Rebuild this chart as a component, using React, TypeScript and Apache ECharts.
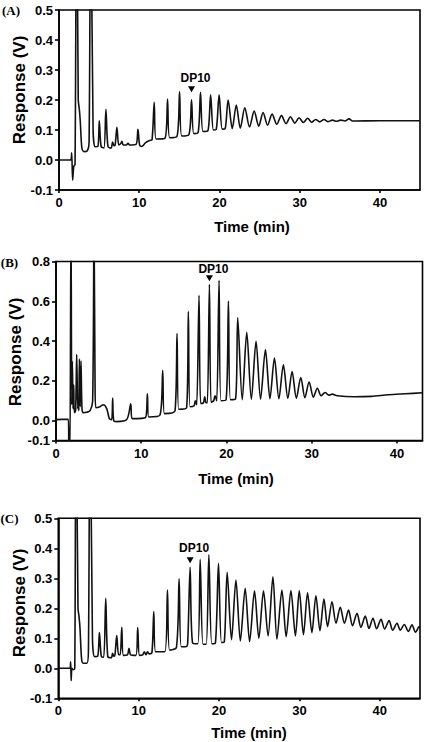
import React, { useEffect, useRef } from 'react';
import * as echarts from 'echarts';

// ---------- text ----------
const panelLabels = ['(A)', '(B)', '(C)'];
const xAxisName = 'Time (min)';
const yAxisName = 'Response (V)';
const dpLabel = 'DP10';

// ---------- axes ----------
const xMaxList = [45, 43, 45];
const xTickStep = 10;
const yTicksA = [-0.1, 0, 0.1, 0.2, 0.3, 0.4, 0.5];
const yTicksB = [-0.1, 0, 0.2, 0.4, 0.6, 0.8];
const yTicksC = [-0.1, 0, 0.1, 0.2, 0.3, 0.4, 0.5];

// ---------- DP10 peaks [time, response] ----------
const dp10A: [number, number] = [16.52, 0.201];
const dp10B: [number, number] = [18.0, 0.685];
const dp10C: [number, number] = [16.4, 0.337];

// ---------- traces [time (min), response (V)] ----------
const traceA: [number, number][] = [
  [0, 0.0], [1.45, 0.0], [1.58, 0.024], [1.7, -0.067], [1.85, -0.02], [2.0, -0.015],
  [2.2, 0.95], [2.4, 0.2], [2.53, 0.17], [2.65, 0.13], [2.85, 0.04], [3.1, 0.028],
  [3.5, 0.03], [3.75, 0.06], [3.95, 0.95], [4.25, 0.1], [4.5, 0.044], [4.85, 0.045],
  [5.02, 0.131], [5.25, 0.045], [5.6, 0.04], [5.85, 0.169], [6.1, 0.045], [6.5, 0.04],
  [6.68, 0.06], [6.85, 0.048], [7.0, 0.05], [7.22, 0.109], [7.45, 0.05], [7.7, 0.055],
  [7.85, 0.062], [8.0, 0.05], [8.4, 0.05], [8.6, 0.056], [8.8, 0.05], [9.6, 0.052],
  [9.84, 0.102], [10.05, 0.05], [10.3, 0.045], [10.8, 0.058], [11.3, 0.065], [11.6, 0.068],
  [11.87, 0.192], [12.1, 0.07], [13.2, 0.072], [13.53, 0.203], [13.8, 0.074], [14.7, 0.078],
  [15.03, 0.228], [15.3, 0.08], [16.2, 0.085], [16.52, 0.201], [16.8, 0.088], [17.35, 0.092],
  [17.64, 0.226], [17.95, 0.095], [18.55, 0.097], [18.9, 0.217], [19.25, 0.1], [19.6, 0.102],
  [19.96, 0.217], [20.35, 0.103], [20.7, 0.104], [21.08, 0.2], [21.6, 0.105], [22.1, 0.183],
  [22.6, 0.106], [23.16, 0.174], [23.75, 0.11], [24.33, 0.163], [24.9, 0.113], [25.44, 0.158],
  [26.0, 0.116], [26.56, 0.153], [27.15, 0.119], [27.73, 0.148], [28.3, 0.121], [28.85, 0.144],
  [29.4, 0.123], [29.93, 0.141], [30.45, 0.125], [31.0, 0.139], [31.5, 0.126], [32.0, 0.135],
  [32.5, 0.127], [33.04, 0.135], [33.55, 0.128], [34.08, 0.133], [34.6, 0.129], [35.1, 0.133],
  [35.65, 0.13], [36.15, 0.137], [36.6, 0.13], [40.0, 0.131], [45.0, 0.131],
];

const traceB: [number, number][] = [
  [0, 0.005], [1.45, 0.007], [1.52, -0.2], [1.62, -0.2], [1.76, 1.0], [1.85, 0.08],
  [1.92, 0.298], [2.0, 0.06], [2.08, 0.18], [2.15, 0.04], [2.3, 0.05], [2.43, 0.332],
  [2.55, 0.06], [2.62, 0.1], [2.68, 0.05], [2.74, 0.31], [2.84, 0.07], [2.93, 0.3],
  [3.05, 0.06], [3.2, 0.04], [3.6, 0.042], [4.0, 0.05], [4.3, 0.1], [4.46, 1.0],
  [4.58, 0.2], [4.66, 0.065], [5.16, 0.07], [5.55, 0.08], [5.95, 0.06], [6.26, 0.01],
  [6.53, 0.005], [6.65, 0.113], [6.77, 0.0], [7.12, -0.005], [8.3, 0.005], [8.77, 0.084],
  [8.92, 0.01], [10.5, 0.015], [10.72, 0.135], [10.88, 0.018], [12.2, 0.028], [12.52, 0.253],
  [12.72, 0.035], [13.97, 0.05], [14.2, 0.438], [14.4, 0.057], [15.33, 0.065], [15.53, 0.549],
  [15.73, 0.07], [16.2, 0.075], [16.35, 0.1], [16.51, 0.08], [16.78, 0.63], [16.97, 0.086],
  [17.3, 0.09], [17.45, 0.12], [17.6, 0.09], [17.76, 0.09], [18.0, 0.685], [18.19, 0.092],
  [18.5, 0.1], [18.65, 0.125], [18.86, 0.1], [19.13, 0.705], [19.37, 0.1], [19.96, 0.105],
  [20.23, 0.601], [20.47, 0.105], [21.06, 0.108], [21.32, 0.517], [21.85, 0.105], [22.38, 0.444],
  [22.92, 0.107], [23.47, 0.399], [24.0, 0.108], [24.57, 0.357], [25.1, 0.11], [25.63, 0.315],
  [26.15, 0.11], [26.68, 0.281], [27.2, 0.112], [27.7, 0.247], [28.2, 0.113], [28.72, 0.217],
  [29.2, 0.115], [29.7, 0.194], [30.2, 0.118], [30.67, 0.163], [31.1, 0.125], [31.57, 0.141],
  [32.0, 0.128], [32.4, 0.133], [33.0, 0.125], [35.0, 0.12], [37.0, 0.122], [39.0, 0.13],
  [41.0, 0.135], [43.0, 0.14],
];

const traceC: [number, number][] = [
  [0, 0.0], [1.25, 0.0], [1.45, 0.0], [1.54, 0.022], [1.6, -0.041], [1.7, 0.0],
  [1.87, -0.005], [2.05, 0.0], [2.2, 0.95], [2.45, 0.2], [2.58, 0.172], [2.7, 0.133],
  [2.9, 0.03], [3.1, 0.017], [3.55, 0.017], [3.75, 0.06], [3.95, 0.95], [4.25, 0.1],
  [4.5, 0.039], [4.9, 0.04], [5.11, 0.119], [5.35, 0.04], [5.65, 0.037], [5.9, 0.233],
  [6.15, 0.04], [6.6, 0.035], [6.75, 0.05], [6.9, 0.04], [7.05, 0.045], [7.27, 0.109],
  [7.5, 0.045], [7.7, 0.045], [7.9, 0.137], [8.1, 0.043], [8.6, 0.045], [8.8, 0.067],
  [9.0, 0.045], [9.65, 0.043], [9.88, 0.136], [10.1, 0.043], [10.5, 0.045], [10.7, 0.055],
  [10.9, 0.045], [11.1, 0.055], [11.3, 0.048], [11.65, 0.052], [11.88, 0.189], [12.1, 0.055],
  [13.25, 0.055], [13.58, 0.261], [13.85, 0.06], [14.7, 0.07], [15.03, 0.298], [15.3, 0.072],
  [15.9, 0.072], [16.1, 0.085], [16.4, 0.337], [16.7, 0.085], [17.35, 0.082], [17.65, 0.363],
  [18.0, 0.08], [18.4, 0.08], [18.73, 0.378], [19.1, 0.082], [19.55, 0.085], [19.93, 0.35],
  [20.3, 0.086], [20.65, 0.088], [21.01, 0.32], [21.55, 0.095], [22.1, 0.294], [22.65, 0.091],
  [23.25, 0.267], [23.8, 0.089], [24.41, 0.258], [24.95, 0.1], [25.53, 0.258], [26.1, 0.108],
  [26.7, 0.305], [27.2, 0.097], [27.82, 0.261], [28.35, 0.105], [28.94, 0.259], [29.5, 0.108],
  [29.98, 0.258], [30.5, 0.112], [31.01, 0.252], [31.55, 0.119], [32.05, 0.242], [32.55, 0.125],
  [33.05, 0.231], [33.5, 0.139], [34.05, 0.222], [34.55, 0.15], [35.08, 0.203], [35.6, 0.15],
  [36.11, 0.194], [36.6, 0.142], [37.16, 0.183], [37.65, 0.137], [38.19, 0.174], [38.65, 0.133],
  [39.15, 0.167], [39.6, 0.132], [40.15, 0.163], [40.6, 0.131], [41.15, 0.159], [41.6, 0.127],
  [42.14, 0.15], [42.55, 0.127], [43.05, 0.146], [43.55, 0.123], [44.0, 0.145], [44.45, 0.12],
  [44.9, 0.139], [45.0, 0.135],
];

const SANS = '"Liberation Sans", Arial, Helvetica, sans-serif';
const SERIF = '"Liberation Serif", "Times New Roman", serif';

const grids = [
  { left: 59, top: 10, width: 361, height: 180 },
  { left: 56, top: 261.5, width: 366.5, height: 179 },
  { left: 58.3, top: 518.3, width: 361.7, height: 180 },
];
const yTickSets = [yTicksA, yTicksB, yTicksC];
const traces = [traceA, traceB, traceC];
const dpPeaks = [dp10A, dp10B, dp10C];
const dpArrowOffsets = [10.5, 6, 7];
const dpLabelGaps = [2.5, 0.5, 3.5];
const panelLabelPos = [[11, 10], [9.5, 262], [9.5, 518]];
const yNamePos = [[19, 90], [15, 352], [19, 603]];
const xNamePos = [[252, 226.5], [236, 478], [249, 732]];

export default function App() {
  const ref = useRef<HTMLDivElement>(null);
  useEffect(() => {
    if (!ref.current) return;
    const chart = echarts.init(ref.current, undefined, { renderer: 'svg' });
    const axisLineStyle = { color: '#000', width: 1.6 };
    const option: any = {
      animation: false,
      backgroundColor: '#fff',
      grid: grids.map((g) => ({
        ...g,
        show: true,
        borderColor: '#000',
        borderWidth: 1.6,
        backgroundColor: 'transparent',
        containLabel: false,
      })),
      xAxis: grids.map((_, i) => ({
        type: 'value',
        gridIndex: i,
        min: 0,
        max: xMaxList[i],
        interval: xTickStep,
        axisLine: { show: true, onZero: false, lineStyle: axisLineStyle },
        axisTick: { show: true, length: 3, lineStyle: axisLineStyle },
        axisLabel: {
          color: '#000',
          fontSize: 13,
          fontWeight: 'bold',
          fontFamily: SANS,
          margin: 6,
          showMaxLabel: false,
          formatter: (v: number) => String(v),
        },
        splitLine: { show: false },
      })),
      yAxis: grids.map((_, i) => {
        const ticks = yTickSets[i];
        return {
          type: 'value',
          gridIndex: i,
          min: ticks[0],
          max: ticks[ticks.length - 1],
          axisLine: { show: true, onZero: false, lineStyle: axisLineStyle },
          axisTick: { show: true, length: 4, lineStyle: axisLineStyle, customValues: ticks },
          axisLabel: {
            color: '#000',
            fontSize: 13,
            fontWeight: 'bold',
            fontFamily: SANS,
            margin: 6,
            customValues: ticks,
            formatter: (v: number) => v.toFixed(1),
          },
          splitLine: { show: false },
        };
      }),
      series: traces.map((data, i) => ({
        type: 'line',
        xAxisIndex: i,
        yAxisIndex: i,
        data,
        showSymbol: false,
        symbol: 'none',
        clip: true,
        smooth: 0.3,
        lineStyle: { color: '#111', width: 1.6 },
        emphasis: { disabled: true },
        markPoint: {
          silent: true,
          data: [
            {
              coord: dpPeaks[i],
              symbol: 'path://M0,0 L8,0 L4,7 Z',
              symbolSize: [7, 6],
              symbolOffset: [0, -dpArrowOffsets[i]],
              itemStyle: { color: '#000' },
              label: {
                show: true,
                position: 'top',
                distance: dpLabelGaps[i],
                offset: [4, 0],
                formatter: dpLabel,
                color: '#000',
                fontSize: 12,
                fontWeight: 'bold',
                fontFamily: SANS,
              },
            },
          ],
        },
      })),
      graphic: [
        ...panelLabels.map((t, i) => ({
          type: 'text',
          x: panelLabelPos[i][0],
          y: panelLabelPos[i][1],
          style: {
            text: t,
            fill: '#000',
            font: `bold 13px ${SERIF}`,
            textAlign: 'center',
            textVerticalAlign: 'middle',
            align: 'center',
            verticalAlign: 'middle',
          },
        })),
        ...yNamePos.map((p) => ({
          type: 'text',
          x: p[0],
          y: p[1],
          rotation: Math.PI / 2,
          style: {
            text: yAxisName,
            fill: '#000',
            font: `bold 17px ${SANS}`,
            textAlign: 'center',
            textVerticalAlign: 'middle',
            align: 'center',
            verticalAlign: 'middle',
          },
        })),
        ...xNamePos.map((p) => ({
          type: 'text',
          x: p[0],
          y: p[1],
          style: {
            text: xAxisName,
            fill: '#000',
            font: `bold 15px ${SANS}`,
            textAlign: 'center',
            textVerticalAlign: 'middle',
            align: 'center',
            verticalAlign: 'middle',
          },
        })),
      ],
    };
    chart.setOption(option);
    return () => chart.dispose();
  }, []);
  return (
    <div
      ref={ref}
      style={{ position: 'fixed', left: 0, top: 0, width: 425, height: 742, background: '#fff' }}
    />
  );
}
